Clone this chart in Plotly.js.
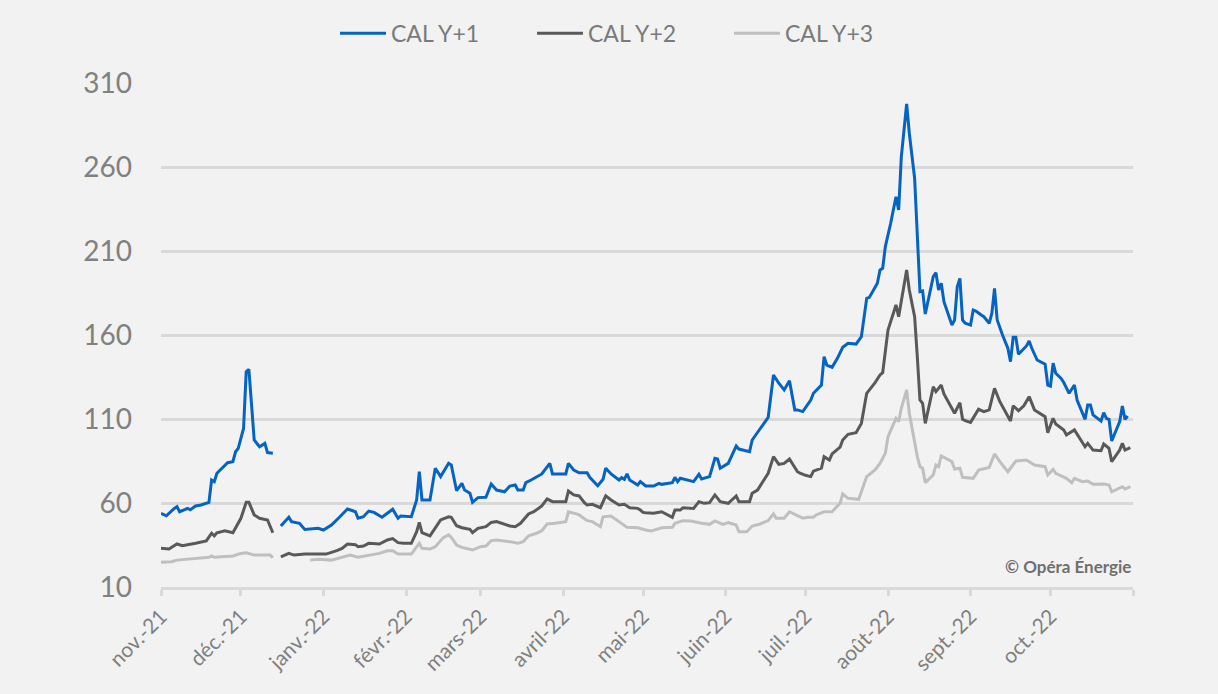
<!DOCTYPE html>
<html>
<head>
<meta charset="utf-8">
<script src="https://cdn.plot.ly/plotly-3.0.1.min.js"></script>
<style>
  html, body { margin: 0; padding: 0; background: #f2f2f2; }
  #chart { width: 1218px; height: 694px; }
</style>
</head>
<body>
<div id="chart"></div>
<script>
// ---- Data ----
const seriesNames = ['CAL Y+1', 'CAL Y+2', 'CAL Y+3'];

const datesY1 = [
  '2021-11-01','2021-11-03','2021-11-06','2021-11-07','2021-11-08','2021-11-11','2021-11-12','2021-11-14','2021-11-16','2021-11-19','2021-11-20','2021-11-21','2021-11-22','2021-11-25','2021-11-26','2021-11-28','2021-11-29','2021-11-30',
  '2021-12-02','2021-12-03','2021-12-04','2021-12-06','2021-12-08','2021-12-10','2021-12-11','2021-12-13','2021-12-14','2021-12-16','2021-12-19','2021-12-20','2021-12-23','2021-12-25','2021-12-28','2021-12-30',
  '2022-01-01','2022-01-04','2022-01-07','2022-01-10','2022-01-12','2022-01-13','2022-01-14','2022-01-16','2022-01-18','2022-01-20','2022-01-23','2022-01-25','2022-01-27','2022-01-29','2022-01-30',
  '2022-02-03','2022-02-05','2022-02-06','2022-02-07','2022-02-10','2022-02-12','2022-02-14','2022-02-17','2022-02-18','2022-02-20','2022-02-22','2022-02-23','2022-02-25','2022-02-26','2022-02-28',
  '2022-03-03','2022-03-05','2022-03-07','2022-03-10','2022-03-12','2022-03-14','2022-03-15','2022-03-17','2022-03-18','2022-03-20','2022-03-22','2022-03-24','2022-03-27','2022-03-28',
  '2022-04-02','2022-04-03','2022-04-05','2022-04-07','2022-04-10','2022-04-11','2022-04-14','2022-04-16','2022-04-17','2022-04-19','2022-04-22','2022-04-23','2022-04-24','2022-04-25','2022-04-26','2022-04-29','2022-04-30',
  '2022-05-02','2022-05-05','2022-05-07','2022-05-08','2022-05-12','2022-05-13','2022-05-14','2022-05-15','2022-05-18','2022-05-20','2022-05-22','2022-05-23','2022-05-26','2022-05-28','2022-05-29','2022-05-30',
  '2022-06-02','2022-06-05','2022-06-06','2022-06-10','2022-06-11','2022-06-13','2022-06-17','2022-06-19','2022-06-21','2022-06-23','2022-06-25','2022-06-27','2022-06-28','2022-06-30',
  '2022-07-02','2022-07-03','2022-07-04','2022-07-07','2022-07-08','2022-07-09','2022-07-11','2022-07-13','2022-07-15','2022-07-17','2022-07-20','2022-07-22','2022-07-24','2022-07-25','2022-07-28','2022-07-29','2022-07-30','2022-07-31',
  '2022-08-02','2022-08-04','2022-08-05','2022-08-06','2022-08-08','2022-08-09','2022-08-11','2022-08-12','2022-08-13','2022-08-14','2022-08-15','2022-08-18','2022-08-19','2022-08-20','2022-08-21','2022-08-22','2022-08-25','2022-08-26','2022-08-27','2022-08-28','2022-08-29','2022-08-30',
  '2022-09-01','2022-09-02','2022-09-03','2022-09-05','2022-09-06','2022-09-08','2022-09-09','2022-09-10','2022-09-11','2022-09-13','2022-09-15','2022-09-16','2022-09-17','2022-09-18','2022-09-19','2022-09-22','2022-09-23','2022-09-24','2022-09-26','2022-09-29','2022-09-30',
  '2022-10-01','2022-10-02','2022-10-03','2022-10-05','2022-10-06','2022-10-08','2022-10-10','2022-10-11','2022-10-14','2022-10-15','2022-10-16','2022-10-17','2022-10-20','2022-10-21','2022-10-22','2022-10-23','2022-10-24','2022-10-27','2022-10-28','2022-10-29','2022-10-30'
];
const valuesY1 = [
  53.9,52.4,56.8,57.8,54.8,56.8,56,58.2,58.8,60.4,73.7,72.7,77.7,82,84,84.6,90.5,92.5,
  104.4,138.2,139.6,97.5,93.5,95.5,90,89.6,null,46.3,51.5,48.9,47.9,44.3,44.9,44.9,
  43.9,46.9,51.5,56.4,55.4,54.8,50.9,51.8,55.2,54.4,51.5,53.9,56.3,50.9,52.3,
  51.8,61.8,78.6,61.8,61.8,80.7,75.7,83.6,82.6,67.3,71.7,67.7,65.8,60.4,63.2,
  63.4,71.3,67.7,66.7,70.1,70.7,67.7,67.7,72.1,73.7,75.7,77.3,83.6,77.3,
  77.3,83.6,79.6,78,78,75.3,70.3,74.1,80.7,77.3,73.7,75.1,74.1,77.3,73.7,70.7,72.7,
  70.1,70.1,71.7,71.1,72.1,75.3,72.7,74.7,73.7,72.7,77.1,74.3,75.7,86.6,86.2,80.7,
  83.6,93.9,92.1,90.5,97.5,101.8,111,136.2,131.3,127.3,132.8,115.4,115.4,114.4,
  119.3,121.3,125.3,130.2,147.1,142.1,140.8,146.1,152.7,155.1,154.6,159,181.8,182.4,190.8,198.7,199.7,212.6,
  226.5,242.3,234.4,266.1,297.5,280.1,253.3,216.5,185.8,186.2,172.5,194.7,197.1,186.8,190.8,179.8,165.9,168.9,188.7,193.7,168.9,167,
  165.9,174.9,174.3,171.9,170.9,167,172.9,187.8,168.9,160,152.1,144.1,158.6,158.6,148.5,153.5,156.4,152.1,145.1,142.6,130.2,
  129.6,143.2,137.2,134.2,131.7,125.3,130.2,121.3,109.8,118.3,118.3,112.4,108.8,113.8,110.4,109.8,96.9,108.4,117.7,109.8,111.8
];

const datesY2 = [
  '2021-11-01','2021-11-04','2021-11-07','2021-11-09','2021-11-14','2021-11-18','2021-11-20','2021-11-21','2021-11-22','2021-11-25','2021-11-28','2021-11-29',
  '2021-12-01','2021-12-03','2021-12-04','2021-12-06','2021-12-08','2021-12-11','2021-12-13','2021-12-14','2021-12-16','2021-12-19','2021-12-21','2021-12-25','2021-12-30',
  '2022-01-02','2022-01-06','2022-01-08','2022-01-10','2022-01-13','2022-01-14','2022-01-16','2022-01-18','2022-01-22','2022-01-25','2022-01-27','2022-01-29','2022-01-31',
  '2022-02-03','2022-02-05','2022-02-06','2022-02-07','2022-02-10','2022-02-12','2022-02-14','2022-02-17','2022-02-18','2022-02-20','2022-02-22','2022-02-25','2022-02-26','2022-02-28',
  '2022-03-03','2022-03-05','2022-03-07','2022-03-12','2022-03-14','2022-03-16','2022-03-19','2022-03-21','2022-03-24','2022-03-26','2022-03-28',
  '2022-04-02','2022-04-03','2022-04-05','2022-04-07','2022-04-09','2022-04-10','2022-04-12','2022-04-15','2022-04-17','2022-04-19','2022-04-22','2022-04-24','2022-04-26','2022-04-29','2022-04-30',
  '2022-05-01','2022-05-02','2022-05-05','2022-05-08','2022-05-12','2022-05-13','2022-05-15','2022-05-16','2022-05-20','2022-05-22','2022-05-24','2022-05-26','2022-05-28','2022-05-30',
  '2022-06-02','2022-06-05','2022-06-06','2022-06-10','2022-06-11','2022-06-13','2022-06-17','2022-06-19','2022-06-21','2022-06-23','2022-06-25','2022-06-28','2022-06-29',
  '2022-07-01','2022-07-03','2022-07-04','2022-07-07','2022-07-08','2022-07-10','2022-07-11','2022-07-14','2022-07-15','2022-07-17','2022-07-20','2022-07-22','2022-07-24','2022-07-27','2022-07-29','2022-07-30',
  '2022-08-01','2022-08-04','2022-08-05','2022-08-06','2022-08-08','2022-08-09','2022-08-11','2022-08-12','2022-08-13','2022-08-14','2022-08-15','2022-08-18','2022-08-19','2022-08-21','2022-08-22','2022-08-26','2022-08-28','2022-08-29','2022-08-30',
  '2022-09-01','2022-09-03','2022-09-04','2022-09-06','2022-09-08','2022-09-10','2022-09-12','2022-09-16','2022-09-17','2022-09-19','2022-09-21','2022-09-23','2022-09-25','2022-09-29','2022-09-30',
  '2022-10-02','2022-10-03','2022-10-06','2022-10-07','2022-10-10','2022-10-14','2022-10-15','2022-10-17','2022-10-20','2022-10-21','2022-10-23','2022-10-24','2022-10-27','2022-10-28','2022-10-29','2022-10-31'
];
const valuesY2 = [
  33,32.6,35.6,34.6,36,37.4,42,40.5,42.3,43.5,42.3,45.3,
  50.9,60.4,60.4,52.9,50.9,49.9,42.3,null,28,30,29,29.6,29.6,
  29.6,31.6,33,35.6,35.2,34,34.4,36,35.6,38,38.8,36.4,36,
  36,42.9,48.5,42.3,40.4,44.9,49.9,51.8,51.5,46.5,45.3,44.3,42.3,44.9,
  45.9,48.5,48.9,46.3,45.9,47.9,53.5,54.8,58.2,62.4,60.8,
  60.8,67.1,64.8,64.2,60.2,58.8,59.2,57.2,64.3,61.8,58.8,59.2,57.2,56.8,55.8,
  54.4,54.2,53.9,54.8,51.5,55.8,55.8,57.2,56.8,60.8,59.8,60.2,64.8,60.8,
  59.8,64.2,60.8,60.8,65.8,67.7,77.7,87.6,83,83.6,86.2,78.6,77.7,
  76.5,75.7,79,80.7,87.6,85.6,89.2,93.2,97.5,100.9,101.8,107.4,125.3,131.3,136.2,137.6,
  163,177.9,170.9,180.8,198.7,186.8,170.9,147.1,121.3,119.3,107.4,129.2,126.3,130.2,124.9,113.4,119.7,109.8,109,
  108,113.8,115.8,114.4,115.4,128.3,120.3,108.8,117.9,114.9,117.9,123.3,115.4,111.4,101.8,
  110.4,107,103.5,100.5,103.5,93.5,95.5,91.5,91.1,95.1,92.5,84.6,91.5,95.5,91.5,92.9
];

const datesY3 = [
  '2021-11-01','2021-11-05','2021-11-07','2021-11-14','2021-11-19','2021-11-20','2021-11-21','2021-11-28',
  '2021-12-01','2021-12-03','2021-12-06','2021-12-12','2021-12-13','2021-12-20','2021-12-27','2021-12-30',
  '2022-01-04','2022-01-08','2022-01-11','2022-01-14','2022-01-18','2022-01-22','2022-01-25','2022-01-27','2022-01-29',
  '2022-02-03','2022-02-06','2022-02-07','2022-02-10','2022-02-12','2022-02-15','2022-02-17','2022-02-18','2022-02-20','2022-02-22','2022-02-26',
  '2022-03-01','2022-03-03','2022-03-05','2022-03-07','2022-03-12','2022-03-15','2022-03-17','2022-03-19','2022-03-22','2022-03-24','2022-03-26','2022-03-29',
  '2022-04-02','2022-04-03','2022-04-06','2022-04-07','2022-04-10','2022-04-12','2022-04-15','2022-04-16','2022-04-19','2022-04-21','2022-04-24','2022-04-25','2022-04-29',
  '2022-05-01','2022-05-02','2022-05-04','2022-05-08','2022-05-12','2022-05-13','2022-05-16','2022-05-19','2022-05-23','2022-05-26','2022-05-28','2022-05-31',
  '2022-06-02','2022-06-05','2022-06-06','2022-06-09','2022-06-11','2022-06-14','2022-06-17','2022-06-19','2022-06-20','2022-06-23','2022-06-25','2022-06-28','2022-06-30',
  '2022-07-02','2022-07-04','2022-07-05','2022-07-08','2022-07-11','2022-07-14','2022-07-15','2022-07-17','2022-07-21','2022-07-22','2022-07-24','2022-07-27','2022-07-29','2022-07-31',
  '2022-08-01','2022-08-04','2022-08-05','2022-08-06','2022-08-08','2022-08-09','2022-08-12','2022-08-13','2022-08-14','2022-08-15','2022-08-18','2022-08-19','2022-08-20','2022-08-21','2022-08-25','2022-08-26','2022-08-28','2022-08-29','2022-08-30',
  '2022-09-02','2022-09-04','2022-09-08','2022-09-10','2022-09-12','2022-09-15','2022-09-18','2022-09-22','2022-09-25','2022-09-29','2022-09-30',
  '2022-10-02','2022-10-03','2022-10-07','2022-10-09','2022-10-10','2022-10-13','2022-10-15','2022-10-17','2022-10-21','2022-10-23','2022-10-24','2022-10-27','2022-10-28','2022-10-29','2022-10-31'
];
const valuesY3 = [
  24.7,25,26,27,27.7,28.5,27.7,28.5,
  30,30.4,29,29,27.4,null,26,26.5,
  26,27.7,29,27.7,29,30,31.6,31.6,29.6,
  29.6,36,33,32.6,34,39.4,41,39.6,35,33.6,32,
  34,34.4,37.6,38,37,36,37,40.4,42,43.5,47.5,47.9,
  48.9,54.8,53.5,52.9,49.5,48.9,45.9,51.8,52.3,49.9,46.3,45.5,45.3,
  44.3,43.9,43.3,45.3,45.5,47.9,49.5,49.3,47.9,47.3,49.3,47.3,
  48.3,46.9,42.9,42.9,46.3,47.5,49.5,53.5,50.9,50.9,54.8,52.3,51,
  51.5,51.5,52.9,54.8,54.8,59.8,65.4,62.8,62.2,66.7,75.7,79.6,83.6,89.6,
  99.5,110.4,108.4,116.4,127.3,113.4,87.6,81.6,80.7,72.1,76.7,82.6,81.6,88,84.6,80.2,80.7,75.3,75.1,
  74.7,79.6,81.2,89.2,84.6,78.6,85,85.6,82.6,81.6,76.7,
  80,77.7,74.7,72.1,74.7,72.7,73.1,71.1,71.3,70.7,66.7,68.8,69.7,68.3,69.7
];

const monthTicks = ['2021-11-01','2021-12-01','2022-01-01','2022-02-01','2022-03-01','2022-04-01','2022-05-01','2022-06-01','2022-07-01','2022-08-01','2022-09-01','2022-10-01','2022-11-01'];
const monthLabels = ['nov.-21','déc.-21','janv.-22','févr.-22','mars-22','avril-22','mai-22','juin-22','juil.-22','août-22','sept.-22','oct.-22',''];
const yTicks = [10, 60, 110, 160, 210, 260, 310];
const sourceNote = '© Opéra Énergie';

// ---- Styling ----
const colors = ['#0563c1', '#595959', '#bfbfbf'];
const FONT = '"Source Sans Pro", Lato, "Noto Sans", sans-serif';

const traces = [
  {x: datesY1, y: valuesY1, name: seriesNames[0]},
  {x: datesY2, y: valuesY2, name: seriesNames[1]},
  {x: datesY3, y: valuesY3, name: seriesNames[2]}
].map((t, i) => Object.assign(t, {
  type: 'scatter', mode: 'lines', connectgaps: false,
  line: {color: colors[i], width: 3}, hoverinfo: 'skip'
}));

const layout = {
  width: 1218, height: 694,
  paper_bgcolor: '#f2f2f2', plot_bgcolor: '#f2f2f2',
  margin: {l: 161, r: 85, t: 83, b: 107},
  font: {family: FONT, color: '#808080'},
  showlegend: true,
  legend: {
    orientation: 'h', xref: 'container', yref: 'container',
    x: 335 / 1218, xanchor: 'left', y: 0.952, yanchor: 'middle',
    font: {size: 23, color: '#7a7a7a', family: FONT},
    entrywidth: 136, itemwidth: 46, bgcolor: 'rgba(0,0,0,0)'
  },
  xaxis: {
    type: 'date', range: ['2021-11-01', '2022-11-01'],
    tickmode: 'array', tickvals: monthTicks, ticktext: monthLabels,
    tickangle: -45, ticks: 'outside', ticklen: 6, tickwidth: 3, tickcolor: '#d9d9d9',
    showline: true, linecolor: '#d9d9d9', linewidth: 3,
    showgrid: false, zeroline: false,
    tickfont: {size: 21, color: '#808080', family: FONT}
  },
  yaxis: {
    range: [10, 310], tickmode: 'array', tickvals: yTicks,
    showgrid: true, gridcolor: '#d9d9d9', gridwidth: 3,
    zeroline: false, showline: false, ticks: '',
    ticklabelstandoff: 28,
    tickfont: {size: 28, color: '#808080', family: FONT}
  },
  annotations: [{
    text: '<b>' + sourceNote + '</b>', showarrow: false,
    xref: 'paper', x: 1, xanchor: 'right',
    yref: 'y', y: 22, yanchor: 'middle',
    font: {size: 17, color: '#6f6f6f', family: FONT}
  }]
};

Plotly.newPlot('chart', traces, layout, {displayModeBar: false, staticPlot: true});
</script>
</body>
</html>
